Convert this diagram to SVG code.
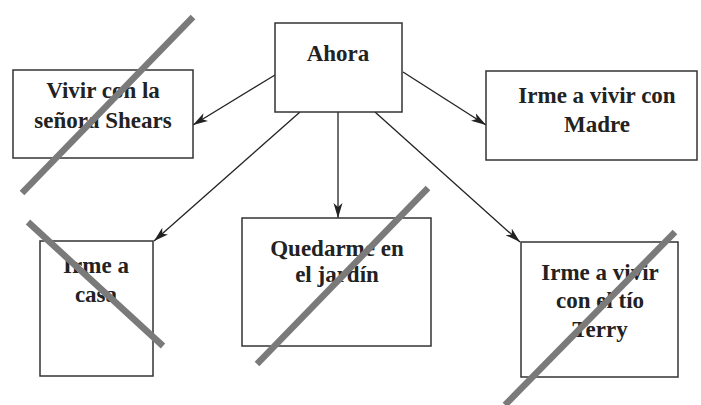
<svg xmlns="http://www.w3.org/2000/svg" width="701" height="405" viewBox="0 0 701 405">
<style>
.box{fill:#fff;stroke:#333;stroke-width:1.5}
.lbl{font-family:"Liberation Serif","Times New Roman",serif;font-weight:bold;font-size:23px;fill:#222;text-anchor:middle}
.conn{stroke:#222;stroke-width:1.3;fill:none;marker-end:url(#ah)}
.strike{stroke:#7a7a7a;stroke-width:6.5;stroke-linecap:butt}
</style>
<defs>
<marker id="ah" markerUnits="userSpaceOnUse" markerWidth="16" markerHeight="10" refX="15" refY="5" orient="auto">
<path d="M0,0.5 L15,5 L0,9.5 L4,5 z" fill="#222"/>
</marker>
</defs>
<rect width="701" height="405" fill="#fff"/>
<g id="connectors">
<line class="conn" x1="275" y1="75" x2="193" y2="125"/>
<line class="conn" x1="403" y1="72" x2="486" y2="125"/>
<line class="conn" x1="300" y1="112" x2="154" y2="241"/>
<line class="conn" x1="338" y1="112" x2="338" y2="218"/>
<line class="conn" x1="375" y1="112" x2="520" y2="242"/>
</g>
<g id="ahora">
<rect class="box" x="275" y="23" width="127" height="89"/>
<text class="lbl" x="338" y="61">Ahora</text>
</g>
<g id="shears">
<rect class="box" x="13" y="70" width="180" height="88"/>
<text class="lbl" x="103" y="98">Vivir con la</text>
<text class="lbl" x="103" y="128">señora Shears</text>
</g>
<g id="madre">
<rect class="box" x="486" y="71" width="211" height="89"/>
<text class="lbl" x="597" y="103">Irme a vivir con</text>
<text class="lbl" x="597" y="132">Madre</text>
</g>
<g id="casa">
<rect class="box" x="40" y="241" width="113" height="135"/>
<text class="lbl" x="96" y="273">Irme a</text>
<text class="lbl" x="96" y="302">casa</text>
</g>
<g id="jardin">
<rect class="box" x="242" y="218" width="189" height="128"/>
<text class="lbl" x="337" y="256">Quedarme en</text>
<text class="lbl" x="337" y="282">el jardín</text>
</g>
<g id="terry">
<rect class="box" x="521" y="242" width="157" height="135"/>
<text class="lbl" x="600" y="280">Irme a vivir</text>
<text class="lbl" x="600" y="308">con el tío</text>
<text class="lbl" x="600" y="337">Terry</text>
</g>
<g id="strikes">
<line class="strike" x1="193" y1="17" x2="22" y2="193"/>
<line class="strike" x1="28" y1="222" x2="163" y2="346"/>
<line class="strike" x1="428" y1="188" x2="257" y2="364"/>
<line class="strike" x1="675" y1="232" x2="505" y2="405"/>
</g>
</svg>
